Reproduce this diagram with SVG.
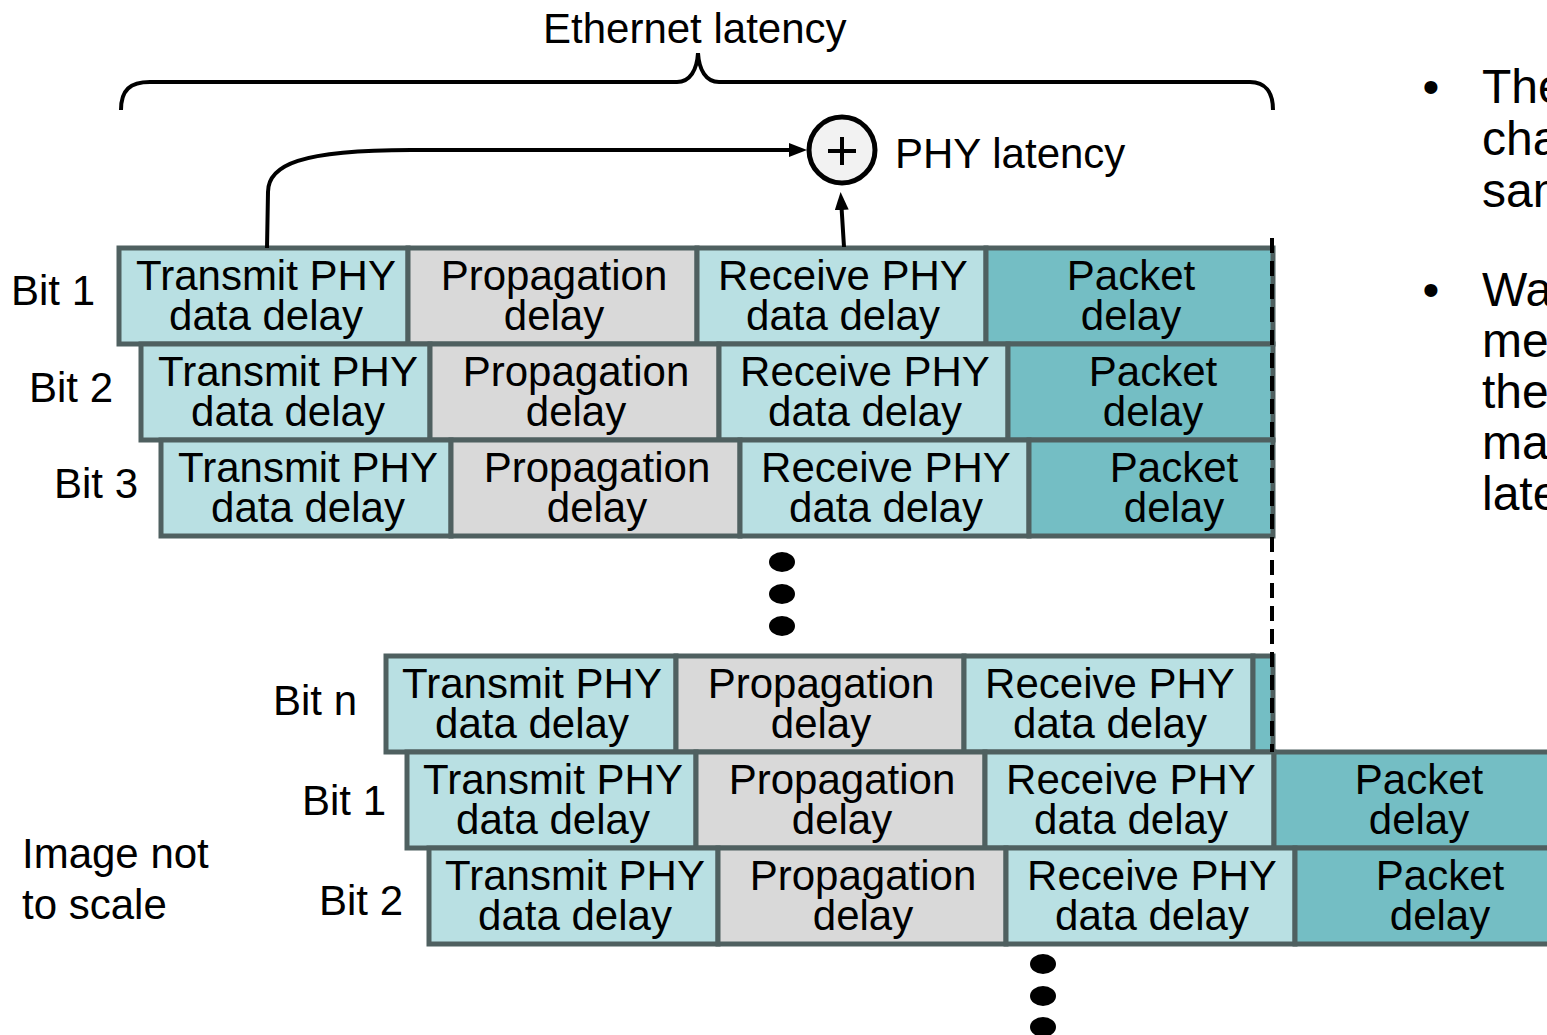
<svg xmlns="http://www.w3.org/2000/svg" width="1547" height="1035" viewBox="0 0 1547 1035">
<defs>
<style>
.t{font-family:"Liberation Sans",Arial,sans-serif;font-size:42px;fill:#000}
.c{text-anchor:middle}
.b{font-family:"Liberation Sans",Arial,sans-serif;font-size:48px;fill:#000}
.tx{fill:#b9e0e3;stroke:#4f6060;stroke-width:5}
.pr{fill:#d9d9d9;stroke:#4f6060;stroke-width:5}
.pk{fill:#74bec4;stroke:#4f6060;stroke-width:5}
.ln{fill:none;stroke:#000;stroke-width:4}
</style>
<marker id="ah" viewBox="0 0 18 14" refX="8" refY="7" markerWidth="18" markerHeight="14" markerUnits="userSpaceOnUse" orient="auto">
<path d="M0,0 L18,7 L0,14 Z" fill="#000"/>
</marker>
</defs>
<rect width="1547" height="1035" fill="#fff"/>

<g id="brace">
<path class="ln" d="M121,110 C121,90 130,82 150,82 L677,82 C690,82 697,70 698,53 C699,70 706,82 719,82 L1250,82 C1265,82 1273,92 1273,110"/>
<text class="t" x="543" y="43">Ethernet latency</text>
</g>

<g id="row1">
<rect class="tx" x="119" y="248" width="289" height="96"/>
<rect class="pr" x="408" y="248" width="289" height="96"/>
<rect class="tx" x="697" y="248" width="289" height="96"/>
<rect class="pk" x="986" y="248" width="287" height="96"/>
<text class="t c" y="290"><tspan x="266">Transmit PHY</tspan><tspan x="266" y="330">data delay</tspan></text>
<text class="t c" y="290"><tspan x="554">Propagation</tspan><tspan x="554" y="330">delay</tspan></text>
<text class="t c" y="290"><tspan x="843">Receive PHY</tspan><tspan x="843" y="330">data delay</tspan></text>
<text class="t c" y="290"><tspan x="1131">Packet</tspan><tspan x="1131" y="330">delay</tspan></text>
<text class="t" x="11" y="305">Bit 1</text>
</g>

<g id="row2">
<rect class="tx" x="141" y="344" width="289" height="96"/>
<rect class="pr" x="430" y="344" width="289" height="96"/>
<rect class="tx" x="719" y="344" width="289" height="96"/>
<rect class="pk" x="1008" y="344" width="265" height="96"/>
<text class="t c" y="386"><tspan x="288">Transmit PHY</tspan><tspan x="288" y="426">data delay</tspan></text>
<text class="t c" y="386"><tspan x="576">Propagation</tspan><tspan x="576" y="426">delay</tspan></text>
<text class="t c" y="386"><tspan x="865">Receive PHY</tspan><tspan x="865" y="426">data delay</tspan></text>
<text class="t c" y="386"><tspan x="1153">Packet</tspan><tspan x="1153" y="426">delay</tspan></text>
<text class="t" x="29" y="402">Bit 2</text>
</g>

<g id="row3">
<rect class="tx" x="161" y="440" width="290" height="96"/>
<rect class="pr" x="451" y="440" width="289" height="96"/>
<rect class="tx" x="740" y="440" width="289" height="96"/>
<rect class="pk" x="1029" y="440" width="244" height="96"/>
<text class="t c" y="482"><tspan x="308">Transmit PHY</tspan><tspan x="308" y="522">data delay</tspan></text>
<text class="t c" y="482"><tspan x="597">Propagation</tspan><tspan x="597" y="522">delay</tspan></text>
<text class="t c" y="482"><tspan x="886">Receive PHY</tspan><tspan x="886" y="522">data delay</tspan></text>
<text class="t c" y="482"><tspan x="1174">Packet</tspan><tspan x="1174" y="522">delay</tspan></text>
<text class="t" x="54" y="498">Bit 3</text>
</g>

<g id="rown">
<rect class="tx" x="386" y="656" width="290" height="96"/>
<rect class="pr" x="676" y="656" width="288" height="96"/>
<rect class="tx" x="964" y="656" width="289" height="96"/>
<rect class="pk" x="1253" y="656" width="20" height="96"/>
<text class="t c" y="698"><tspan x="532">Transmit PHY</tspan><tspan x="532" y="738">data delay</tspan></text>
<text class="t c" y="698"><tspan x="821">Propagation</tspan><tspan x="821" y="738">delay</tspan></text>
<text class="t c" y="698"><tspan x="1110">Receive PHY</tspan><tspan x="1110" y="738">data delay</tspan></text>
<text class="t" x="273" y="715">Bit n</text>
</g>

<g id="row1b">
<rect class="tx" x="407" y="752" width="289" height="96"/>
<rect class="pr" x="696" y="752" width="289" height="96"/>
<rect class="tx" x="985" y="752" width="289" height="96"/>
<rect class="pk" x="1274" y="752" width="290" height="96"/>
<text class="t c" y="794"><tspan x="553">Transmit PHY</tspan><tspan x="553" y="834">data delay</tspan></text>
<text class="t c" y="794"><tspan x="842">Propagation</tspan><tspan x="842" y="834">delay</tspan></text>
<text class="t c" y="794"><tspan x="1131">Receive PHY</tspan><tspan x="1131" y="834">data delay</tspan></text>
<text class="t c" y="794"><tspan x="1419">Packet</tspan><tspan x="1419" y="834">delay</tspan></text>
<text class="t" x="302" y="815">Bit 1</text>
</g>

<g id="row2b">
<rect class="tx" x="429" y="848" width="289" height="96"/>
<rect class="pr" x="718" y="848" width="288" height="96"/>
<rect class="tx" x="1006" y="848" width="289" height="96"/>
<rect class="pk" x="1295" y="848" width="290" height="96"/>
<text class="t c" y="890"><tspan x="575">Transmit PHY</tspan><tspan x="575" y="930">data delay</tspan></text>
<text class="t c" y="890"><tspan x="863">Propagation</tspan><tspan x="863" y="930">delay</tspan></text>
<text class="t c" y="890"><tspan x="1152">Receive PHY</tspan><tspan x="1152" y="930">data delay</tspan></text>
<text class="t c" y="890"><tspan x="1440">Packet</tspan><tspan x="1440" y="930">delay</tspan></text>
<text class="t" x="319" y="915">Bit 2</text>
</g>

<g id="sum">
<circle cx="842" cy="150" r="33" fill="#f2f2f2" stroke="#000" stroke-width="5"/>
<path d="M828,151 H856 M842,137 V165" stroke="#000" stroke-width="4"/>
<text class="t" x="895" y="168">PHY latency</text>
</g>

<g id="connectors">
<path class="ln" d="M267,248 L268,192 C268,165 300,150 411,150 L797,150" marker-end="url(#ah)"/>
<path class="ln" d="M844,247 L841.2,202" marker-end="url(#ah)"/>
<line x1="1272" y1="238" x2="1272" y2="752" stroke="#000" stroke-width="4" stroke-dasharray="15 8"/>
</g>

<g id="dots1">
<ellipse cx="782" cy="562" rx="13" ry="10"/>
<ellipse cx="782" cy="594" rx="13" ry="10"/>
<ellipse cx="782" cy="626" rx="13" ry="10"/>
</g>
<g id="dots2">
<ellipse cx="1043" cy="964" rx="13" ry="10"/>
<ellipse cx="1043" cy="996" rx="13" ry="10"/>
<ellipse cx="1043" cy="1027" rx="13" ry="10"/>
</g>

<g id="note">
<text class="t" y="868"><tspan x="22">Image not</tspan><tspan x="22" y="919">to scale</tspan></text>
</g>

<g id="bullets">
<text class="b c" x="1431" y="103">•</text>
<text class="b" y="103"><tspan x="1482">The</tspan><tspan x="1482" y="155">cha</tspan><tspan x="1482" y="207">sam</tspan></text>
<text class="b c" x="1431" y="306">•</text>
<text class="b" y="306"><tspan x="1482">Wa</tspan><tspan x="1482" y="357">me</tspan><tspan x="1482" y="408">the</tspan><tspan x="1482" y="459">ma</tspan><tspan x="1482" y="510">late</tspan></text>
</g>
</svg>
